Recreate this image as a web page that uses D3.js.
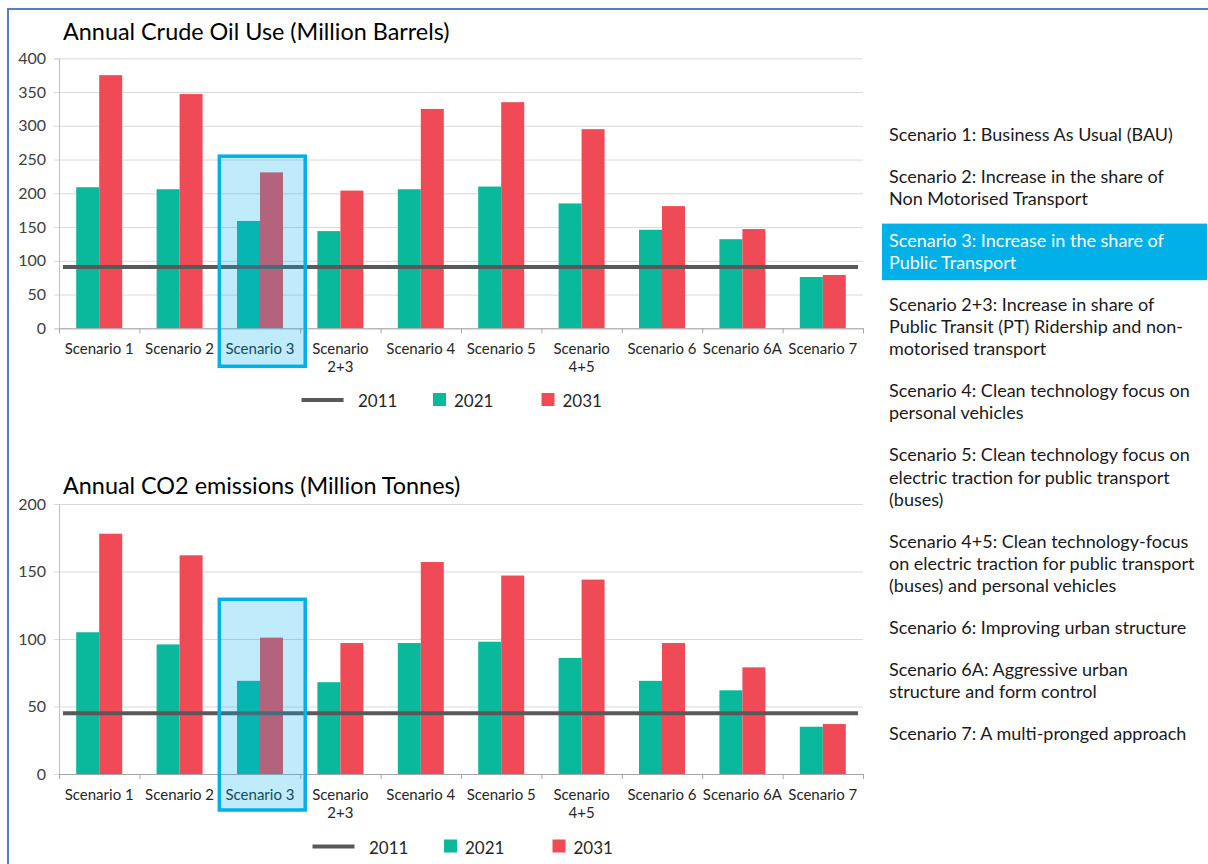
<!DOCTYPE html>
<html>
<head>
<meta charset="utf-8">
<script src="https://cdn.jsdelivr.net/npm/d3@7"></script>
<style>
  body { margin: 0; background: #fff; }
  svg { display: block; font-family: Lato, "Open Sans", sans-serif; }
</style>
</head>
<body>
<script>
// data
const categories = ["Scenario 1", "Scenario 2", "Scenario 3", "Scenario 2+3", "Scenario 4",
    "Scenario 5", "Scenario 4+5", "Scenario 6", "Scenario 6A", "Scenario 7"];
const seriesNames = ["2011", "2021", "2031"];

const oil2011 = 91;
const oil2021 = [209, 206, 159, 144, 206, 210, 185, 146, 132, 76];
const oil2031 = [375, 347, 231, 204, 325, 335, 295, 181, 147, 79];
const oilTicks = [0, 50, 100, 150, 200, 250, 300, 350, 400];

const co2_2011 = 45;
const co2_2021 = [105, 96, 69, 68, 97, 98, 86, 69, 62, 35];
const co2_2031 = [178, 162, 101, 97, 157, 147, 144, 97, 79, 37];
const co2Ticks = [0, 50, 100, 150, 200];

const highlighted = "Scenario 3";

const descriptions = [
    ["Scenario 1: Business As Usual (BAU)"],
    ["Scenario 2: Increase in the share of", "Non Motorised Transport"],
    ["Scenario 3: Increase in the share of", "Public Transport"],
    ["Scenario 2+3: Increase in share of", "Public Transit (PT) Ridership and non-", "motorised transport"],
    ["Scenario 4: Clean technology focus on", "personal vehicles"],
    ["Scenario 5: Clean technology focus on", "electric traction for public transport", "(buses)"],
    ["Scenario 4+5: Clean technology-focus", "on electric traction for public transport", "(buses) and personal vehicles"],
    ["Scenario 6: Improving urban structure"],
    ["Scenario 6A: Aggressive urban", "structure and form control"],
    ["Scenario 7: A multi-pronged approach"],
];

const green = "#0AB89B";
const red = "#EF4A56";
const grey = "#595959";
const cyan = "#00B0E6";

const W = 1208, H = 864;
const left = 59, right = 863;

const svg = d3.select("body").append("svg")
    .attr("width", W)
    .attr("height", H);

// outer frame
svg.append("rect")
    .attr("x", 8).attr("y", 9)
    .attr("width", W).attr("height", H)
    .attr("fill", "none")
    .attr("stroke", "#4F81BD")
    .attr("stroke-width", 2);

const x = d3.scaleBand().domain(categories).range([left, right]).paddingInner(0).paddingOuter(0);
const barW = 23;

function drawChart(cfg) {
    const y = d3.scaleLinear().domain([0, cfg.max]).range([cfg.bottom, cfg.top]);
    const g = svg.append("g");

    g.append("text")
        .attr("x", 63).attr("y", cfg.titleY)
        .attr("font-size", 23.4)
        .attr("fill", "#000")
        .text(cfg.title);

    // gridlines
    g.append("g")
        .attr("transform", `translate(${left},0)`)
        .call(d3.axisLeft(y).tickValues(cfg.ticks).tickSize(-(right - left)).tickFormat(""))
        .call(a => a.select(".domain").remove())
        .call(a => a.selectAll("line").attr("stroke", "#D9D9D9").attr("stroke-width", 1));

    // y axis
    g.append("g")
        .attr("transform", `translate(${left},0)`)
        .call(d3.axisLeft(y).tickValues(cfg.ticks).tickSize(5).tickPadding(8))
        .call(a => a.select(".domain").attr("stroke", "#BFBFBF"))
        .call(a => a.selectAll("line").attr("stroke", "#D9D9D9"))
        .call(a => a.selectAll("text").attr("font-size", 16).attr("fill", "#404040")
            .attr("font-family", "Lato"));

    // bars
    const rows = categories.map((c, i) => ({ c, v1: cfg.v2021[i], v2: cfg.v2031[i] }));
    g.append("g").selectAll("rect").data(rows).join("rect")
        .attr("x", d => x(d.c) + x.bandwidth() / 2 - barW)
        .attr("y", d => y(d.v1))
        .attr("width", barW)
        .attr("height", d => y(0) - y(d.v1))
        .attr("fill", green);
    g.append("g").selectAll("rect").data(rows).join("rect")
        .attr("x", d => x(d.c) + x.bandwidth() / 2)
        .attr("y", d => y(d.v2))
        .attr("width", barW)
        .attr("height", d => y(0) - y(d.v2))
        .attr("fill", red);

    // x axis line + boundary ticks
    const xb = d3.scaleLinear().domain([0, categories.length]).range([left, right]);
    g.append("g")
        .attr("transform", `translate(0,${y(0)})`)
        .call(d3.axisBottom(xb).ticks(categories.length).tickSize(5).tickFormat("").tickSizeOuter(5))
        .call(a => a.select(".domain").attr("stroke", "#A6A6A6"))
        .call(a => a.selectAll("line").attr("stroke", "#A6A6A6"));

    // category labels
    const lab = g.append("g").selectAll("text").data(categories).join("text")
        .attr("x", d => x(d) + x.bandwidth() / 2)
        .attr("y", y(0) + 26)
        .attr("text-anchor", "middle")
        .attr("font-size", 15)
        .attr("fill", "#262626");
    lab.each(function (d) {
        const t = d3.select(this);
        const parts = d.includes("+") ? d.split(" ") : [d];
        parts.forEach((p, k) => t.append("tspan")
            .attr("x", x(d) + x.bandwidth() / 2)
            .attr("dy", k ? 18 : 0)
            .text(p));
    });

    // 2011 reference line
    g.append("line")
        .attr("x1", left + 4).attr("x2", right - 5)
        .attr("y1", y(cfg.base)).attr("y2", y(cfg.base))
        .attr("stroke", grey)
        .attr("stroke-width", 4);

    // highlight box over scenario 3
    g.append("rect")
        .attr("x", x(highlighted) - 0.5)
        .attr("y", y(cfg.boxTop))
        .attr("width", x.bandwidth() + 5.5)
        .attr("height", y(0) + cfg.boxBelow - y(cfg.boxTop))
        .attr("fill", "#00B0F0")
        .attr("fill-opacity", 0.25)
        .attr("stroke", cyan)
        .attr("stroke-width", 3.5);

    // legend
    const lg = g.append("g").attr("transform", `translate(${cfg.legendX},${cfg.legendY})`);
    lg.append("line").attr("x1", 0).attr("x2", 42).attr("y1", 0).attr("y2", 0)
        .attr("stroke", grey).attr("stroke-width", 4);
    lg.append("rect").attr("x", 131.5).attr("y", -7).attr("width", 13).attr("height", 13).attr("fill", green);
    lg.append("rect").attr("x", 240).attr("y", -7).attr("width", 13).attr("height", 13).attr("fill", red);
    lg.selectAll("text").data(seriesNames).join("text")
        .attr("x", (d, i) => [56.5, 152.5, 261][i])
        .attr("y", 7)
        .attr("font-size", 17)
        .attr("fill", "#262626")
        .text(d => d);
}

drawChart({
    title: "Annual Crude Oil Use (Million Barrels)", titleY: 40,
    top: 58.3, bottom: 328.3, max: 400, ticks: oilTicks,
    v2021: oil2021, v2031: oil2031, base: oil2011,
    boxTop: 255, boxBelow: 38,
    legendX: 301.5, legendY: 400,
});

drawChart({
    title: "Annual CO2 emissions (Million Tonnes)", titleY: 494,
    top: 504, bottom: 774, max: 200, ticks: co2Ticks,
    v2021: co2_2021, v2031: co2_2031, base: co2_2011,
    boxTop: 129.4, boxBelow: 36,
    legendX: 312.5, legendY: 846.5,
});

// scenario descriptions on the right
const lineH = 22.3, gap = 19.5;
let by = 140.7;
const desc = svg.append("g");
descriptions.forEach(lines => {
    const hi = lines[0].startsWith(highlighted + ":");
    if (hi) {
        desc.append("rect")
            .attr("x", 882).attr("y", by - 23)
            .attr("width", 325).attr("height", lineH * lines.length + 12)
            .attr("fill", cyan);
    }
    lines.forEach((l, k) => {
        desc.append("text")
            .attr("x", 889).attr("y", by + k * lineH)
            .attr("font-size", 18)
            .attr("fill", hi ? "#fff" : "#1a1a1a")
            .text(l);
    });
    by += lines.length * lineH + gap;
});
</script>
</body>
</html>
